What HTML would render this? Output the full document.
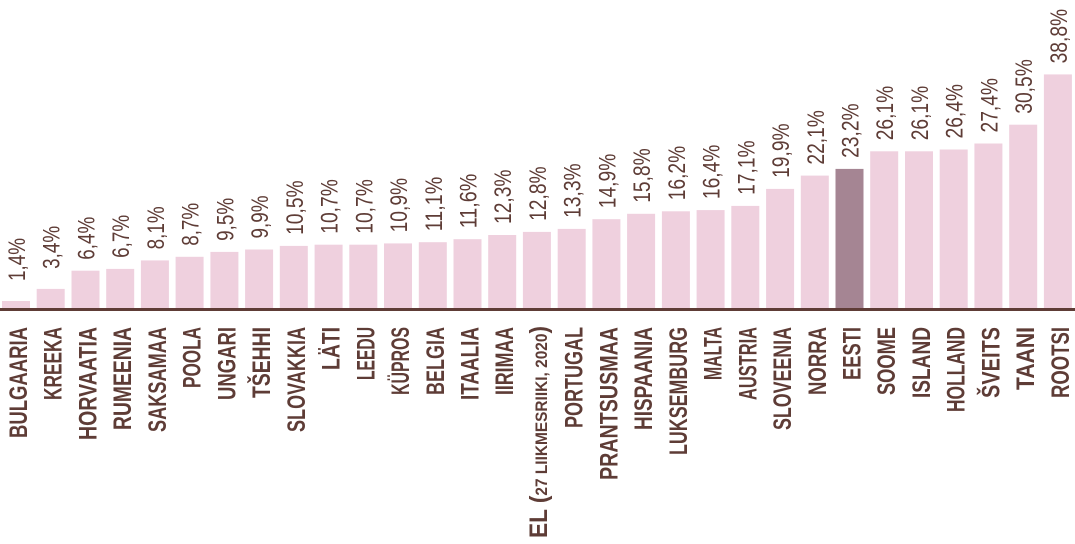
<!DOCTYPE html>
<html><head><meta charset="utf-8"><style>
html,body{margin:0;padding:0;background:#fff;width:1075px;height:544px;overflow:hidden}
svg{display:block}
.l{font-family:"Liberation Sans",sans-serif;font-weight:bold;font-size:25px;fill:#5e3c36}
.v{font-family:"Liberation Sans",sans-serif;font-size:24px;fill:#5e3c36}
</style></head><body>
<svg id="s" width="1075" height="544" xmlns="http://www.w3.org/2000/svg"></svg>
<script>
var d=[["BULGAARIA",1.4,"1,4%",438],["KREEKA",3.4,"3,4%",400],["HORVAATIA",6.4,"6,4%",440],["RUMEENIA",6.7,"6,7%",430],["SAKSAMAA",8.1,"8,1%",432],["POOLA",8.7,"8,7%",388],["UNGARI",9.5,"9,5%",400],["TŠEHHI",9.9,"9,9%",398],["SLOVAKKIA",10.5,"10,5%",432],["LÄTI",10.7,"10,7%",370],["LEEDU",10.7,"10,7%",380],["KÜPROS",10.9,"10,9%",395],["BELGIA",11.1,"11,1%",395],["ITAALIA",11.6,"11,6%",400],["IIRIMAA",12.3,"12,3%",395],["EL",12.8,"12,8%",538],["PORTUGAL",13.3,"13,3%",428],["PRANTSUSMAA",14.9,"14,9%",480],["HISPAANIA",15.8,"15,8%",430],["LUKSEMBURG",16.2,"16,2%",455],["MALTA",16.4,"16,4%",380],["AUSTRIA",17.1,"17,1%",400],["SLOVEENIA",19.9,"19,9%",430],["NORRA",22.1,"22,1%",395],["EESTI",23.2,"23,2%",380],["SOOME",26.1,"26,1%",395],["ISLAND",26.1,"26,1%",398],["HOLLAND",26.4,"26,4%",412],["ŠVEITS",27.4,"27,4%",398],["TAANI",30.5,"30,5%",390],["ROOTSI",38.8,"38,8%",398]];
var h='',base=309.5;
d.forEach(function(r,i){
 var x=2+i*34.73,cx=x+14,t=base-r[1]*6.06;
 h+='<rect x="'+x.toFixed(1)+'" y="'+t.toFixed(1)+'" width="28" height="'+(base-t).toFixed(1)+'" fill="'+(r[0]=="EESTI"?"#a58593":"#efd0de")+'"/>';
 var g=r[1]<5?20:11, vy=t-g, n=r[2].length, vl=(n-2)*11.5+5+15;
 h+='<text class="v" transform="translate('+(cx+9).toFixed(1)+','+vy.toFixed(1)+') rotate(-90)" textLength="'+vl+'" lengthAdjust="spacingAndGlyphs">'+r[2]+'</text>';
 var len=r[3]-327;
 if(r[0]=="EL"){
  h+='<text class="l" transform="translate('+(cx+10).toFixed(1)+',538) rotate(-90)" textLength="212" lengthAdjust="spacingAndGlyphs">EL (<tspan style="font-size:17px">27 LIIKMESRIIKI, 2020</tspan>)</text>';
 } else {
  h+='<text class="l" text-anchor="end" transform="translate('+(cx+11).toFixed(1)+',327) rotate(-90)" textLength="'+len+'" lengthAdjust="spacingAndGlyphs">'+r[0]+'</text>';
 }
});
h+='<rect x="0" y="308" width="1075" height="3" fill="#5e3c36"/>';
document.getElementById('s').innerHTML=h;
</script>
</body></html>
